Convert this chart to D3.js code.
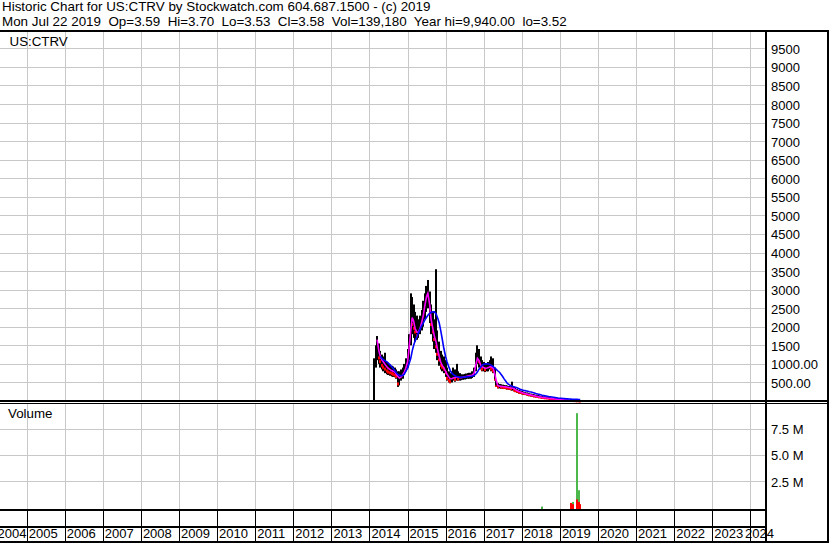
<!DOCTYPE html>
<html><head><meta charset="utf-8">
<script src="https://cdn.jsdelivr.net/npm/d3@7"></script>
<style>
html,body{margin:0;padding:0;background:#fff;}
svg{display:block;}
text{font-family:Arial,"Liberation Sans",sans-serif;fill:#000;white-space:pre;}
</style></head><body>
<svg id="c" width="830" height="543"></svg>
<script>
const title1 = "Historic Chart for US:CTRV by Stockwatch.com 604.687.1500 - (c) 2019";
const title2 = "Mon Jul 22 2019  Op=3.59  Hi=3.70  Lo=3.53  Cl=3.58  Vol=139,180  Year hi=9,940.00  lo=3.52";
const symbolLabel = "US:CTRV";
const volumeLabel = "Volume";
const years = [2004,2005,2006,2007,2008,2009,2010,2011,2012,2013,2014,2015,2016,2017,2018,2019,2020,2021,2022,2023,2024];
const priceTicks = [500,1000,1500,2000,2500,3000,3500,4000,4500,5000,5500,6000,6500,7000,7500,8000,8500,9000,9500];
const priceTickLabels = ["500.00","1000.00","1500","2000","2500","3000","3500","4000","4500","5000","5500","6000","6500","7000","7500","8000","8500","9000","9500"];
const priceMax = 9940;
const volTicks = [2500000,5000000,7500000];
const volTickLabels = ["2.5 M","5.0 M","7.5 M"];

const dates = [
"2014-02-15","2014-03-01","2014-03-15","2014-04-01","2014-04-15","2014-05-01","2014-05-15","2014-06-01","2014-06-15","2014-07-01","2014-07-15","2014-08-01","2014-08-15","2014-09-01","2014-09-15","2014-10-01","2014-10-15","2014-11-01","2014-11-15","2014-12-01","2014-12-15",
"2015-01-01","2015-01-15","2015-02-01","2015-02-15","2015-03-01","2015-03-15","2015-04-01","2015-04-15","2015-05-01","2015-05-15","2015-06-01","2015-06-15","2015-07-01","2015-07-15","2015-08-01","2015-08-15","2015-09-01","2015-09-15","2015-10-01","2015-10-15","2015-11-01","2015-11-15","2015-12-01","2015-12-15",
"2016-01-01","2016-01-15","2016-02-01","2016-02-15","2016-03-01","2016-03-15","2016-04-01","2016-04-15","2016-05-01","2016-05-15","2016-06-01","2016-06-15","2016-07-01","2016-07-15","2016-08-01","2016-08-15","2016-09-01","2016-09-15","2016-10-01","2016-10-15","2016-11-01","2016-11-15","2016-12-01","2016-12-15",
"2017-01-01","2017-01-15","2017-02-01","2017-02-15","2017-03-01","2017-03-15","2017-04-01","2017-04-15","2017-05-01","2017-05-15","2017-06-01","2017-06-15","2017-07-01","2017-07-15","2017-08-01","2017-08-15","2017-09-01","2017-09-15","2017-10-01","2017-10-15","2017-11-01","2017-11-15","2017-12-01","2017-12-15",
"2018-01-01","2018-01-15","2018-02-01","2018-02-15","2018-03-01","2018-03-15","2018-04-01","2018-04-15","2018-05-01","2018-05-15","2018-06-01","2018-06-15","2018-07-01","2018-07-15","2018-08-01","2018-08-15","2018-09-01","2018-09-15","2018-10-01","2018-10-15","2018-11-01","2018-11-15","2018-12-01","2018-12-15",
"2019-01-01","2019-01-15","2019-02-01","2019-02-15","2019-03-01","2019-03-15","2019-04-01","2019-04-15","2019-05-01","2019-05-15","2019-06-01","2019-06-15","2019-07-01","2019-07-15"];

const high = [
1150,1500,1750,1550,1350,1250,1200,1300,1050,1000,980,950,930,900,850,800,800,850,900,1000,1150,
1400,1800,2900,2800,2600,2400,2300,2200,2300,2450,2700,2900,3100,3260,2950,2600,2400,2200,3550,1900,1600,1350,1250,1200,
1100,900,800,750,800,900,850,1000,800,750,720,720,730,740,750,760,760,800,900,1300,1500,1400,1200,1100,
1050,1000,1000,1050,1100,1200,1150,900,550,480,460,450,440,430,425,415,405,395,520,390,350,320,300,285,
270,255,240,230,220,210,200,190,180,170,160,150,140,132,125,118,112,105,98,92,86,80,75,70,
65,60,55,50,45,40,35,30,25,20,18,15,10,6];

const low = [
0,900,1100,1000,900,850,800,750,720,700,680,660,650,640,600,380,420,550,600,700,800,
900,1100,1500,1800,1700,1600,1650,1700,1800,1900,2000,2200,2400,2500,2100,1800,1600,1400,1300,1100,950,850,800,750,
650,550,500,480,500,550,520,550,550,550,560,570,580,590,600,600,600,620,650,800,1000,900,850,800,
800,780,800,800,850,800,750,550,380,340,340,335,330,325,320,310,300,290,280,260,240,220,200,190,
180,170,160,150,140,130,120,110,100,95,90,85,80,75,70,65,60,55,50,45,40,36,32,28,
25,22,20,18,15,13,11,9,7,6,5,4,3.6,3.52];

const close = [
900,1200,1500,1200,1100,1000,950,900,850,820,800,780,760,740,700,500,650,700,750,850,1000,
1200,1600,2400,2100,2000,1900,1800,1900,2100,2200,2400,2600,2800,2900,2400,2100,1900,1700,1500,1300,1150,1000,950,900,
800,650,600,560,600,650,620,650,620,620,640,650,660,670,680,690,700,720,800,1100,1200,1100,950,900,
900,880,900,920,950,900,850,600,420,400,400,395,390,385,380,370,360,350,360,330,300,280,260,245,
230,215,200,190,180,170,160,150,140,130,120,110,105,98,92,86,80,75,70,65,60,55,50,45,
40,37,33,30,27,24,20,17,14,11,9,7,5,3.58];

const maFast = [
null,null,1650,1350,1200,1100,1050,980,930,880,850,820,800,780,720,660,620,650,700,780,880,
1050,1400,1900,2250,2150,1950,1850,1850,1950,2100,2300,2550,2800,2900,2600,2200,1950,1750,1600,1400,1200,1050,950,900,
800,720,650,600,600,620,630,650,640,630,630,640,650,660,670,680,690,700,750,950,1150,1100,980,920,
900,880,890,900,920,920,880,750,550,420,400,395,390,385,380,372,362,352,350,335,305,283,263,248,
232,217,203,192,182,172,162,152,142,132,122,112,105,98,92,86,80,75,70,65,60,55,50,45,
41,38,34,31,28,25,21,18,15,12,10,8,6,4.5];

const maSlow = [
null,null,null,null,1200,1150,1110,1080,1060,1020,980,930,880,820,760,720,690,680,690,720,800,
880,1000,1150,1350,1500,1620,1730,1830,1930,2020,2100,2180,2250,2310,2360,2390,2400,2400,2350,2250,2100,1900,1650,1420,
1200,1050,920,820,750,710,680,660,650,640,640,640,645,650,655,660,665,675,690,720,780,850,910,960,
990,1000,1000,995,985,960,930,890,850,815,775,720,660,595,530,475,440,418,400,385,370,355,335,315,
300,290,280,270,260,250,240,228,215,202,190,178,166,155,145,137,130,122,115,108,100,94,88,82,
76,72,68,64,60,57,54,51,48,46,44,43,42,40];

const volDates = ["2018-07-15","2019-04-19","2019-05-02","2019-05-09","2019-06-17","2019-06-18","2019-07-05","2019-07-08","2019-07-15"];
const volValues = [60000,410000,500000,290000,8970000,740000,1620000,500000,290000];
const volUp = [1,0,1,0,1,0,1,0,0];

const parse = d3.timeParse("%Y-%m-%d");
const svg = d3.select("#c");
const W = 830, H = 543;
const plotRight = 765;
const gridColor = "#c8c8c8";

svg.append("rect").attr("width",W).attr("height",H).attr("fill","#fff");

const x = d3.scaleTime().domain([new Date(2005,0,1), new Date(2024,0,1)]).range([26.7, 750.3]);
const yP = d3.scaleLinear().domain([0, priceMax]).range([401, 32]);
const yV = d3.scaleLinear().domain([0, 7500000]).range([507.2, 428.6]);

const yearDates = years.map(y => new Date(y,0,1));
const bounds = yearDates.filter(d => d.getFullYear() >= 2005);
const px = d => Math.round(x(d)) + 0.5;

// price grid
const grid = svg.append("g").attr("stroke", gridColor).attr("stroke-width",1);
grid.selectAll(".hp").data(priceTicks).join("line")
  .attr("x1",0).attr("x2",plotRight).attr("y1",d=>Math.round(yP(d))+0.5).attr("y2",d=>Math.round(yP(d))+0.5);
grid.selectAll(".vp").data(bounds).join("line")
  .attr("x1",px).attr("x2",px).attr("y1",32).attr("y2",400);
// volume grid
grid.selectAll(".hv").data(volTicks).join("line")
  .attr("x1",0).attr("x2",plotRight).attr("y1",d=>Math.round(yV(d))+0.5).attr("y2",d=>Math.round(yV(d))+0.5);
grid.selectAll(".vv").data(bounds).join("line")
  .attr("x1",px).attr("x2",px).attr("y1",404).attr("y2",509);
// lower rows separators
const sep = svg.append("g").attr("stroke","#000").attr("stroke-width",1);
sep.selectAll("line").data(bounds).join("line")
  .attr("x1",px).attr("x2",px).attr("y1",510).attr("y2",541);

// header text
svg.append("text").attr("x",2).attr("y",11).attr("font-size",13.4).text(title1);
svg.append("text").attr("x",2).attr("y",26).attr("font-size",13.4).text(title2);
svg.append("text").attr("x",9.5).attr("y",46).attr("font-size",13.33).text(symbolLabel);
svg.append("text").attr("x",8).attr("y",418).attr("font-size",13.33).text(volumeLabel);

// price data
const data = dates.map((d,i) => ({date: parse(d), high: high[i], low: low[i], close: close[i], fast: maFast[i], slow: maSlow[i], down: i > 0 && close[i] < close[i-1]}));
const bx = d => Math.round(x(d.date)) - 1;
const bars = svg.append("g");
bars.selectAll("rect.b").data(data).join("rect").attr("class","b")
  .attr("x",bx).attr("width",2)
  .attr("y",d=>yP(d.high)).attr("height",d=>Math.max(1, yP(d.low)-yP(d.high)))
  .attr("fill","#000");
bars.selectAll("rect.r").data(data.filter(d=>d.down)).join("rect").attr("class","r")
  .attr("x",bx).attr("width",2)
  .attr("y",d=>yP(d.close)).attr("height",d=>Math.min(3, Math.max(1.5, yP(d.low)-yP(d.close))))
  .attr("fill","#ff0000");

const lineFast = d3.line().defined(d=>d.fast!=null).x(d=>x(d.date)).y(d=>yP(d.fast));
const lineSlow = d3.line().defined(d=>d.slow!=null).x(d=>x(d.date)).y(d=>yP(d.slow));
svg.append("path").datum(data).attr("d",lineFast).attr("fill","none").attr("stroke","#ff00ff").attr("stroke-width",1.6);
svg.append("path").datum(data).attr("d",lineSlow).attr("fill","none").attr("stroke","#0000ff").attr("stroke-width",1.6);

// volume
const vdata = volDates.map((d,i)=>({date: parse(d), v: volValues[i], up: volUp[i]}));
const vb = svg.append("g");
vb.selectAll("rect.g").data(vdata.filter(d=>d.up)).join("rect").attr("class","g")
  .attr("x",bx).attr("width",2).attr("y",d=>yV(d.v)).attr("height",d=>509-yV(d.v)).attr("fill","#4cb84c");
vb.selectAll("rect.rd").data(vdata.filter(d=>!d.up)).join("rect").attr("class","rd")
  .attr("x",bx).attr("width",2).attr("y",d=>yV(d.v)).attr("height",d=>509-yV(d.v)).attr("fill","#ff0000");

// frame lines
const frame = svg.append("g").attr("fill","#000");
frame.append("rect").attr("x",0).attr("y",30).attr("width",829).attr("height",2);
frame.append("rect").attr("x",0).attr("y",400).attr("width",829).attr("height",2);
frame.append("rect").attr("x",0).attr("y",403).attr("width",829).attr("height",1);
frame.append("rect").attr("x",0).attr("y",509).attr("width",plotRight).attr("height",2);
frame.append("rect").attr("x",0).attr("y",526).attr("width",plotRight).attr("height",2);
frame.append("rect").attr("x",0).attr("y",541).attr("width",829).attr("height",2);
frame.append("rect").attr("x",765).attr("y",30).attr("width",2).attr("height",513);
frame.append("rect").attr("x",827).attr("y",30).attr("width",2).attr("height",513);

// right price axis
const pAxis = svg.append("g").attr("transform","translate(771,0)")
  .call(d3.axisRight(yP).tickValues(priceTicks).tickFormat((d,i)=>priceTickLabels[i]).tickSize(0).tickPadding(0));
pAxis.select(".domain").remove();
pAxis.attr("font-size",13).attr("font-family","Arial, 'Liberation Sans', sans-serif");
pAxis.selectAll("text").attr("x",0).attr("dy",null).attr("y",5).attr("fill","#000");

// right volume axis
const vAxis = svg.append("g").attr("transform","translate(771,0)")
  .call(d3.axisRight(yV).tickValues(volTicks).tickFormat((d,i)=>volTickLabels[i]).tickSize(0).tickPadding(0));
vAxis.select(".domain").remove();
vAxis.attr("font-size",13).attr("font-family","Arial, 'Liberation Sans', sans-serif");
vAxis.selectAll("text").attr("x",0).attr("dy",null).attr("y",5).attr("fill","#000");

// year labels
const xAxis = svg.append("g").attr("transform","translate(0,538)")
  .call(d3.axisBottom(x).tickValues(yearDates).tickFormat(d3.timeFormat("%Y")).tickSize(0).tickPadding(0));
xAxis.select(".domain").remove();
xAxis.attr("font-size",13).attr("font-family","Arial, 'Liberation Sans', sans-serif");
const firstYear = years[0], lastYear = years[years.length-1];
xAxis.selectAll("text").attr("y",0).attr("dy",null).attr("fill","#000")
  .attr("text-anchor","start")
  .attr("x",d=> d.getFullYear()===lastYear ? (744.5 - x(d)) : (d.getFullYear()===firstYear ? 8.5 : 1.5));
</script>
</body></html>
